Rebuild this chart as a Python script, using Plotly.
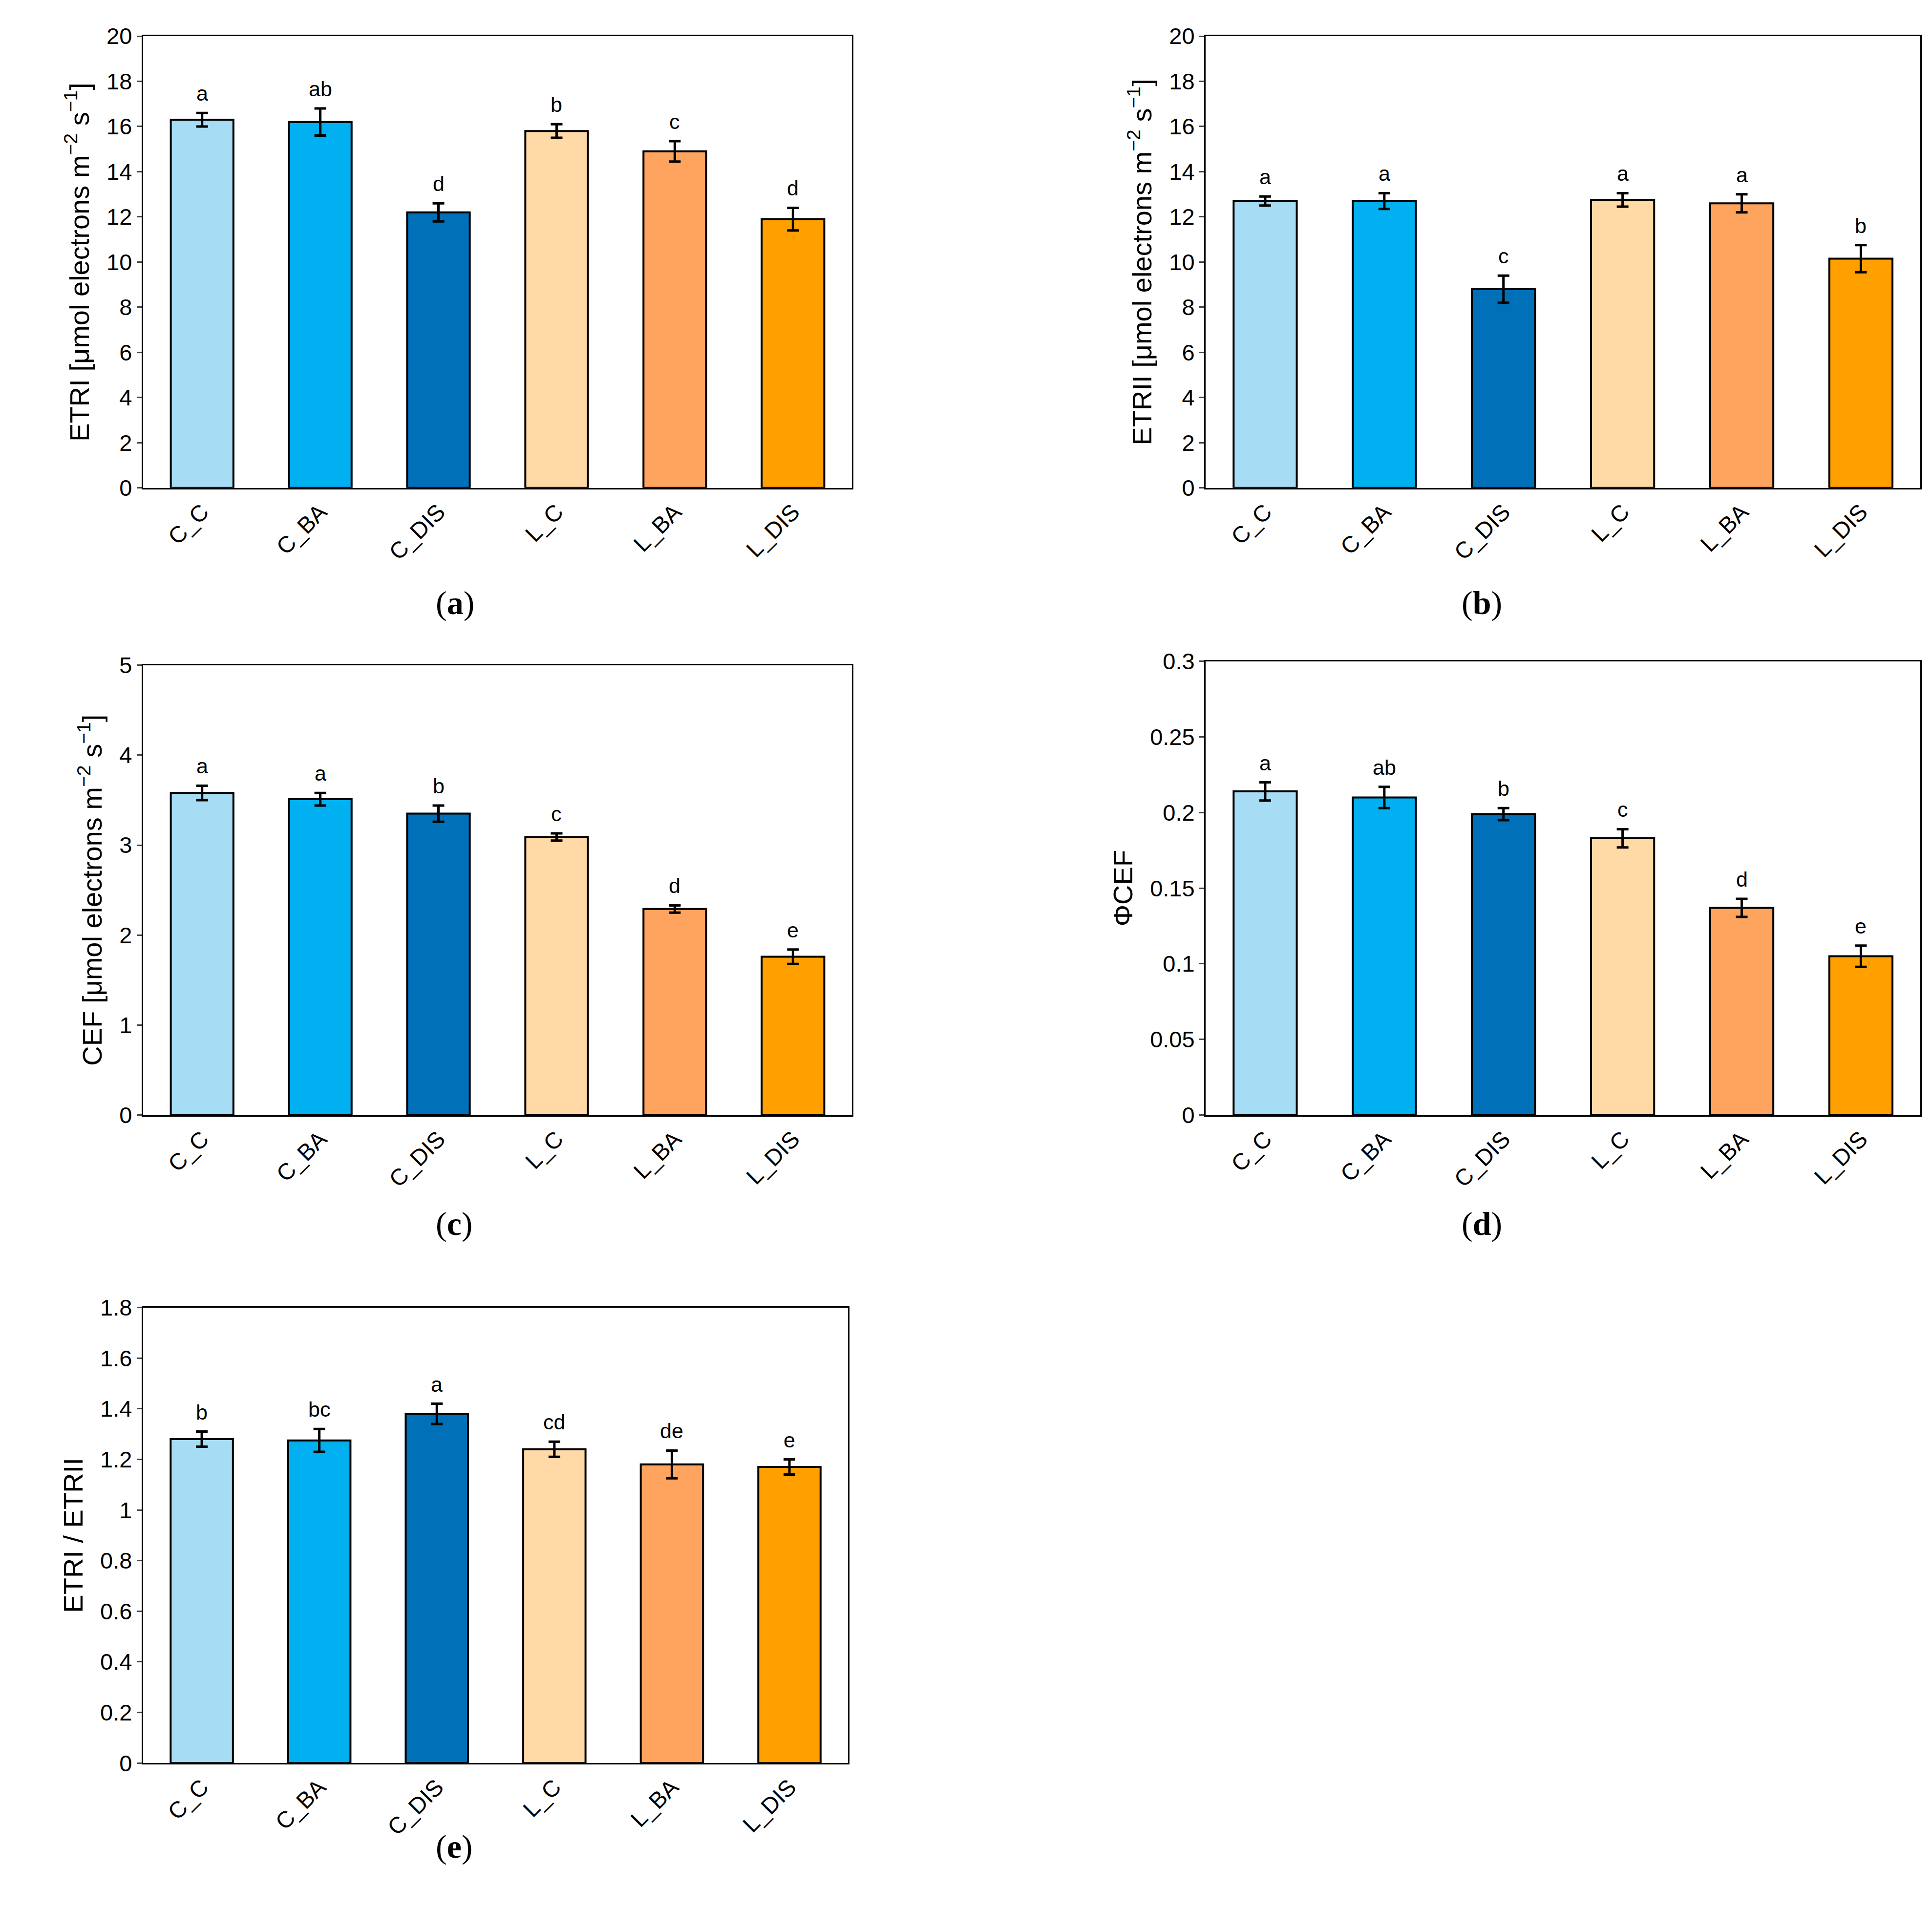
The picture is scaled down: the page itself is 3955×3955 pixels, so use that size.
import plotly.graph_objects as go

groups = ['C_C', 'C_BA', 'C_DIS', 'L_C', 'L_BA', 'L_DIS']
colors = ['#A6DCF4', '#00B0F0', '#0070B8', '#FFD9A6', '#FFA45E', '#FFA000']

# Данные по панелям: значения, ошибки, буквы, подпись оси, диапазон, шаг
panels = [
    dict(y=[16.3, 16.2, 12.2, 15.8, 14.9, 11.9], err=[0.3, 0.6, 0.4, 0.3, 0.45, 0.5],
         letters=['a', 'ab', 'd', 'b', 'c', 'd'],
         title='ETRI [μmol electrons m<sup>−2</sup> s<sup>−1</sup>]', rng=[0, 20], dtick=2,
         x=[0.072, 0.439], yd=[0.753, 0.99], label='(<b>a</b>)', lab=(0.223, 0.703)),
    dict(y=[12.7, 12.7, 8.8, 12.75, 12.6, 10.15], err=[0.2, 0.35, 0.6, 0.3, 0.4, 0.6],
         letters=['a', 'a', 'c', 'a', 'a', 'b'],
         title='ETRII [μmol electrons m<sup>−2</sup> s<sup>−1</sup>]', rng=[0, 20], dtick=2,
         x=[0.622, 0.992], yd=[0.753, 0.99], label='(<b>b</b>)', lab=(0.776, 0.703)),
    dict(y=[3.58, 3.51, 3.35, 3.09, 2.29, 1.76], err=[0.08, 0.07, 0.09, 0.04, 0.04, 0.08],
         letters=['a', 'a', 'b', 'c', 'd', 'e'],
         title='CEF [μmol electrons m<sup>−2</sup> s<sup>−1</sup>]', rng=[0, 5], dtick=1,
         x=[0.072, 0.439], yd=[0.424, 0.66], label='(<b>c</b>)', lab=(0.223, 0.367)),
    dict(y=[0.214, 0.210, 0.199, 0.183, 0.137, 0.105], err=[0.006, 0.007, 0.004, 0.006, 0.006, 0.007],
         letters=['a', 'ab', 'b', 'c', 'd', 'e'],
         title='ΦCEF', rng=[0, 0.3], dtick=0.05,
         x=[0.622, 0.992], yd=[0.424, 0.662], label='(<b>d</b>)', lab=(0.776, 0.367)),
    dict(y=[1.28, 1.275, 1.38, 1.24, 1.18, 1.17], err=[0.03, 0.045, 0.04, 0.03, 0.055, 0.03],
         letters=['b', 'bc', 'a', 'cd', 'de', 'e'],
         title='ETRI / ETRII', rng=[0, 1.8], dtick=0.2,
         x=[0.072, 0.437], yd=[0.084, 0.323], label='(<b>e</b>)', lab=(0.223, 0.03)),
]

fig = go.Figure()
layout = {}
annotations = []

for i, p in enumerate(panels, start=1):
    xa, ya = f'x{i}', f'y{i}'
    fig.add_trace(go.Bar(
        x=groups, y=p['y'], xaxis=xa, yaxis=ya, width=0.53,
        marker=dict(color=colors, line=dict(color='black', width=4)),
        error_y=dict(type='data', array=p['err'], color='black', thickness=5, width=12),
        showlegend=False,
    ))
    axis_font = dict(family='Liberation Sans', size=47, color='black')
    layout[f'xaxis{i}'] = dict(domain=p['x'], anchor=ya, showline=True, mirror=True, linecolor='black',
                               linewidth=3, ticks='', tickangle=-45, tickfont=axis_font, showgrid=False)
    layout[f'yaxis{i}'] = dict(domain=p['yd'], anchor=xa, range=p['rng'], dtick=p['dtick'], showline=True,
                               mirror=True, linecolor='black', linewidth=3, ticks='outside', ticklen=10,
                               tickwidth=3, tickfont=axis_font, showgrid=False, zeroline=False,
                               title=dict(text=p['title'], font=dict(family='Liberation Sans', size=56,
                                                                     color='black'), standoff=18))
    # Буквы значимости над столбцами
    for g, v, e, t in zip(groups, p['y'], p['err'], p['letters']):
        annotations.append(dict(x=g, y=v + e, xref=xa, yref=ya, text=t, showarrow=False,
                                yanchor='bottom', yshift=14,
                                font=dict(family='Liberation Sans', size=43, color='black')))
    annotations.append(dict(x=p['lab'][0], y=p['lab'][1], xref='paper', yref='paper', text=p['label'],
                            showarrow=False, font=dict(family='Liberation Serif', size=68, color='black')))

fig.update_layout(**layout, annotations=annotations, width=3955, height=3955,
                  margin=dict(l=0, r=0, t=0, b=0), plot_bgcolor='white', paper_bgcolor='white')

fig.write_html('out.html')
